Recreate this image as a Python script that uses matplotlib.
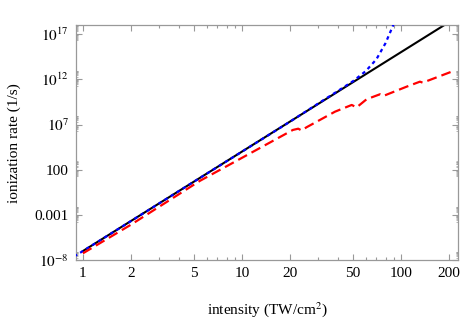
import numpy as np
import matplotlib
matplotlib.use("Agg")
from matplotlib import pyplot as plt
from matplotlib.ticker import FixedLocator, NullFormatter

plt.rcParams['font.family'] = ['Liberation Serif', 'DejaVu Serif']
plt.rcParams['mathtext.fontset'] = 'stix'

# intensity in TW/cm^2, rates in 1/s (as log10 values)
I_black = [1, 200]
logw_black = [-6.96, 18.3]

I_blue = [0.88, 1, 2, 5, 10, 20, 30, 40, 50, 60, 70, 80, 90, 100]
logw_blue = [-7.56, -6.96, -3.66, 0.71, 4.01, 7.31, 9.3, 10.7, 11.8, 12.9, 14.2, 16.0, 18.1, 20.5]

I_red = [1, 2, 5.44, 10, 20.9, 22.6, 23.7, 25.5, 38.5, 49.0, 52.6, 60.8,
         73.8, 77.4, 108.6, 131.6, 136.9, 205]
logw_red = [-7.21, -4.06, 0.79, 3.33, 6.41, 6.55, 6.35, 6.71, 8.43, 9.17, 8.90, 9.80,
            10.35, 10.16, 11.19, 11.74, 11.63, 12.80]

xticks = [1, 2, 5, 10, 20, 50, 100, 200]
yticks = [1e-8, 1e-3, 1e2, 1e7, 1e12, 1e17]
ylabels = [r'$10^{-8}$', '0.001', '100', r'$10^{7}$', r'$10^{12}$', r'$10^{17}$']

fig = plt.figure(figsize=(4.63, 3.2), dpi=100)
ax = fig.add_axes([0.164, 0.186, 0.825, 0.736])

ax.plot(I_black, 10**np.array(logw_black), color='black', lw=1.5, zorder=2)
ax.plot(I_blue, 10**np.array(logw_blue), color='blue', lw=1.6,
        linestyle=(0, (1.6, 1.6)), zorder=3)
ax.plot(I_red, 10**np.array(logw_red), color='red', lw=1.6,
        linestyle=(0, (4.5, 2.3)), zorder=3)

ax.set_xscale('log')
ax.set_yscale('log')
ax.set_xlim(0.904, 228)
ax.set_ylim(1e-8, 1e18)

ax.xaxis.set_major_locator(FixedLocator(xticks))
ax.set_xticklabels([str(t) for t in xticks])
xminor = [k * 10.0**m for m in (-1, 0, 1, 2) for k in range(2, 10)]
ax.xaxis.set_minor_locator(FixedLocator([v for v in xminor if v not in xticks]))
ax.xaxis.set_minor_formatter(NullFormatter())

ax.yaxis.set_major_locator(FixedLocator(yticks))
ax.set_yticklabels(ylabels)
yminor = []
for t in yticks:
    m = int(round(np.log10(t)))
    yminor += [k * 10.0**(m - 1) for k in range(2, 10)] + [k * 10.0**m for k in range(2, 10)]
ax.yaxis.set_minor_locator(FixedLocator(yminor))
ax.yaxis.set_minor_formatter(NullFormatter())

ax.tick_params(which='both', direction='in', top=True, right=True,
               color='#999999', labelsize=11, width=0.8)
ax.tick_params(which='major', length=4)
ax.tick_params(axis='x', which='minor', length=2)
ax.tick_params(axis='y', which='minor', length=1.5, width=0.5)
ax.tick_params(axis='x', pad=5)
ax.tick_params(axis='y', pad=5)
for s in ax.spines.values():
    s.set_color('#999999')
    s.set_linewidth(0.9)

ax.set_xlabel('intensity (TW/cm$^{2}$)', fontsize=11, labelpad=14)
ax.set_ylabel('ionization rate (1/s)', fontsize=11, labelpad=10)

fig.savefig('out.png', dpi=100)
